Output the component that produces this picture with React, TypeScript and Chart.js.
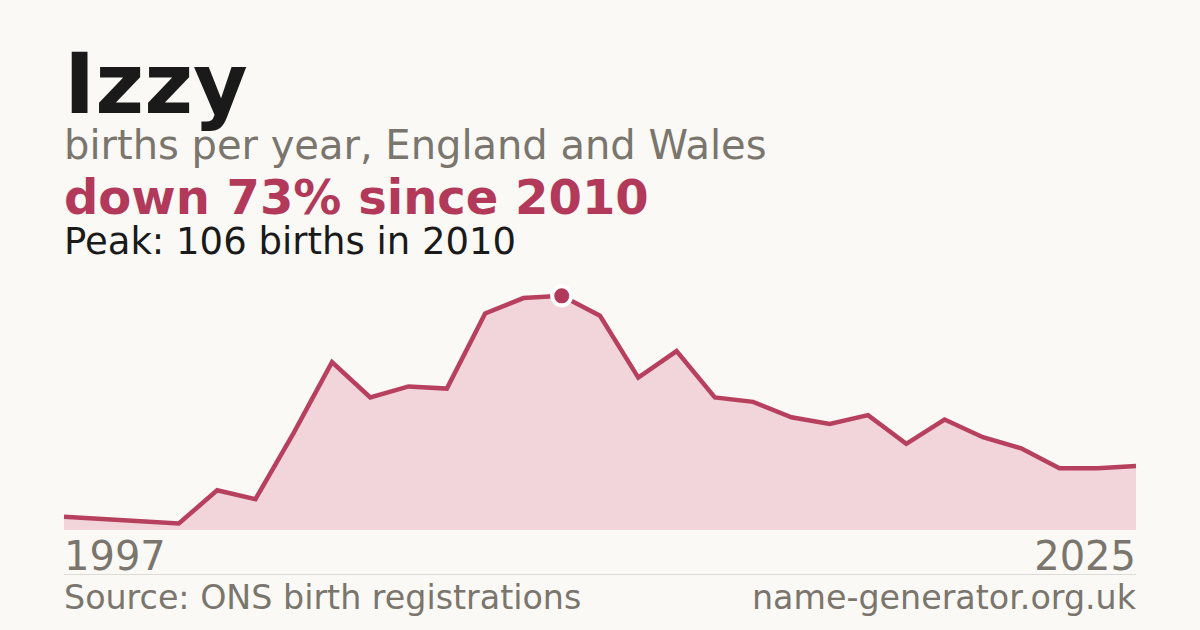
import React, { useEffect, useRef } from "react";
import { Chart, registerables } from "chart.js";

Chart.register(...registerables);

const years: string[] = [
  "1997", "1998", "1999", "2000", "2001", "2002", "2003", "2004", "2005", "2006",
  "2007", "2008", "2009", "2010", "2011", "2012", "2013", "2014", "2015", "2016",
  "2017", "2018", "2019", "2020", "2021", "2022", "2023", "2024", "2025",
];
const births: number[] = [
  6, 5, 4, 3, 18, 14, 44, 76, 60, 65,
  64, 98, 105, 106, 97, 69, 81, 60, 58, 51,
  48, 52, 39, 50, 42, 37, 28, 28, 29,
];

const TITLE = "Izzy";
const SUBTITLE = "births per year, England and Wales";
const HEADLINE = "down 73% since 2010";
const PEAK_TEXT = "Peak: 106 births in 2010";
const SOURCE = "Source: ONS birth registrations";
const SITE = "name-generator.org.uk";

const BG = "#faf9f5";
const RED = "#b3395a";
const GRAY = "#7a756d";
const FONT = '"DejaVu Sans", sans-serif';

export default function App() {
  const ref = useRef<HTMLCanvasElement | null>(null);

  useEffect(() => {
    document.body.style.margin = "0";
    document.body.style.background = BG;
    if (!ref.current) return;
    const peakVal = Math.max(...births);
    const peakIdx = births.indexOf(peakVal);
    const peakData = births.map((v, i) => (i === peakIdx ? v : null));
    const chart = new Chart(ref.current, {
      type: "line",
      data: {
        labels: years,
        datasets: [
          {
            data: peakData,
            showLine: false,
            pointRadius: 9.5,
            pointBackgroundColor: RED,
            pointBorderColor: "#ffffff",
            pointBorderWidth: 4,
            clip: false as any,
            order: 0,
          },
          {
            data: births,
            borderColor: "#b8405f",
            backgroundColor: "#f1d5da",
            borderWidth: 4.5,
            fill: "origin",
            pointRadius: 0,
            tension: 0,
            clip: false as any,
            order: 1,
          },
        ],
      },
      options: {
        animation: false,
        responsive: false,
        devicePixelRatio: 1,
        layout: { autoPadding: false, padding: { left: 64, right: 64, top: 17, bottom: 0 } },
        scales: {
          x: { type: "category", display: false, offset: false },
          y: { display: false, min: 0, max: 110 },
        },
        plugins: { legend: { display: false }, tooltip: { enabled: false } },
      },
    });
    return () => chart.destroy();
  }, []);

  const text = (
    s: string,
    fs: number,
    baseline: number,
    color: string,
    weight: number,
    side: "left" | "right" = "left"
  ) => (
    <div
      style={{
        position: "absolute",
        top: baseline - 0.846 * fs,
        ...(side === "left" ? { left: 64 } : { right: 1200 - 1136 }),
        fontSize: fs,
        lineHeight: 1,
        fontWeight: weight,
        color,
        fontFamily: FONT,
        whiteSpace: "nowrap",
      }}
    >
      {s}
    </div>
  );

  return (
    <div
      style={{
        position: "fixed",
        left: 0,
        top: 0,
        width: 1200,
        height: 630,
        background: BG,
        overflow: "hidden",
        fontFamily: FONT,
      }}
    >
      {text(TITLE, 84, 112.7, "#1a1a1a", 700)}
      {text(SUBTITLE, 40, 159.3, GRAY, 400)}
      {text(HEADLINE, 48, 214, RED, 700)}
      {text(PEAK_TEXT, 37, 254.3, "#1a1a1a", 400)}
      <canvas
        ref={ref}
        width={1200}
        height={260}
        style={{ position: "absolute", left: 0, top: 270, width: 1200, height: 260 }}
      />
      {text(years[0], 40, 570, GRAY, 400)}
      {text(years[years.length - 1], 40, 570, GRAY, 400, "right")}
      <div
        style={{
          position: "absolute",
          left: 64,
          top: 574,
          width: 1072,
          height: 1,
          background: "#dddbd5",
        }}
      />
      {text(SOURCE, 33.3, 609.3, GRAY, 400)}
      {text(SITE, 33.3, 609.3, GRAY, 400, "right")}
    </div>
  );
}
